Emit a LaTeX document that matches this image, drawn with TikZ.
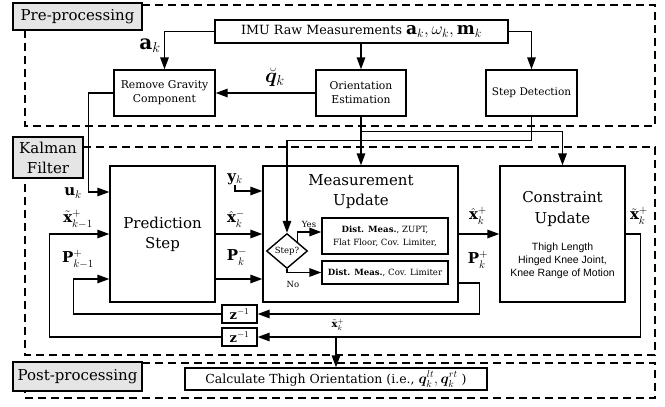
\documentclass[tikz,border=0pt]{standalone}
\usepackage{amsmath}
\usepackage{bm}
\usepackage{fontspec}
\setmainfont{DejaVu Serif}
\newfontfamily\notefont{Liberation Sans}
\usetikzlibrary{arrows.meta,shapes.geometric}

\begin{document}
\begin{tikzpicture}[
    x=1pt, y=-1pt, >={Triangle[length=12pt,width=8.5pt]},
    every node/.style={inner sep=0pt},
    blk/.style={draw, line width=1.4pt, fill=white, align=center},
    tagBox/.style={draw, line width=1.4pt, fill=black!10, align=center, font=\fontsize{15}{20}\selectfont},
    region/.style={line width=1.3pt, dash pattern=on 8pt off 5pt},
    sig/.style={draw, line width=1.5pt},
    mLbl/.style={font=\fontsize{15}{15}\selectfont},
    tinyTxt/.style={font=\fontsize{8.5}{10}\selectfont}
]
    \useasboundingbox (0,0) rectangle (665,407);

    % stage frames
    \draw[region] (142,5) -- (655,5) -- (655,126) -- (25,126) -- (25,30);
    \draw[region] (83,147) -- (655,147) -- (655,355) -- (25,355) -- (25,178);
    \draw[region] (142,363) -- (655,363) -- (655,398) -- (25,398) -- (25,391);
    \node[tagBox, minimum width=129pt, minimum height=27pt] (preTag) at (77.5,16.5) {Pre-processing};
    \node[tagBox, minimum width=70pt, minimum height=41pt] (kalTag) at (48,157.5) {Kalman\\Filter};
    \node[tagBox, minimum width=129pt, minimum height=29pt] (postTag) at (77.5,376.5) {Post-processing};

    % pre-processing
    \node[blk, minimum width=293pt, minimum height=23pt, font=\fontsize{12.7}{15}\selectfont] (imu) at (361.5,31.5)
        {IMU Raw Measurements {\fontsize{17}{17}\selectfont$\mathbf{a}_k,\omega_k,\mathbf{m}_k$}};
    \node[blk, minimum width=101pt, minimum height=46pt, font=\fontsize{10.8}{14}\selectfont] (grav) at (164.5,93) {Remove Gravity\\Component};
    \node[blk, minimum width=90pt, minimum height=46pt, font=\fontsize{10.8}{14}\selectfont] (orient) at (361,93) {Orientation\\Estimation};
    \node[blk, minimum width=91pt, minimum height=46pt, font=\fontsize{10.5}{14}\selectfont] (stepDet) at (531.5,93) {Step Detection};

    % kalman filter
    \node[blk, minimum width=105pt, minimum height=136pt, font=\fontsize{15}{20}\selectfont] (pred) at (162.5,234) {Prediction\\Step};
    \node[blk, minimum width=195pt, minimum height=136pt] (meas) at (360.5,234) {};
    \node[font=\fontsize{15}{20}\selectfont, align=center] (measTitle) at (361,192) {Measurement\\Update};
    \node[blk, minimum width=125pt, minimum height=136pt] (cons) at (562.5,234) {};
    \node[font=\fontsize{15}{21}\selectfont, align=center] (consTitle) at (562.5,208.5) {Constraint\\Update};
    \node[font=\notefont\fontsize{10.5}{13}\selectfont, align=center] (consNote) at (562.5,261)
        {Thigh Length\\Hinged Knee Joint,\\Knee Range of Motion};
    \node[draw, diamond, line width=1.4pt, fill=white, minimum width=41pt, minimum height=35pt, tinyTxt] (stepQ) at (287,251) {Step?};
    \node[blk, minimum width=126pt, minimum height=36pt, font=\fontsize{8.6}{13}\selectfont] (yesBox) at (385,236)
        {\textbf{Dist. Meas.}, ZUPT,\\Flat Floor, Cov. Limiter,};
    \node[blk, minimum width=126pt, minimum height=23pt, font=\fontsize{8.6}{13}\selectfont] (noBox) at (385,272.5)
        {\textbf{Dist. Meas.}, Cov. Limiter};
    \node[blk, minimum width=35pt, minimum height=18pt, font=\fontsize{13}{13}\selectfont] (zOne) at (239.5,314) {$\mathbf{z}^{-1}$};
    \node[blk, minimum width=35pt, minimum height=18pt, font=\fontsize{13}{13}\selectfont] (zTwo) at (239.5,337) {$\mathbf{z}^{-1}$};

    % post-processing
    \node[blk, minimum width=302pt, minimum height=22pt, font=\fontsize{12.5}{15}\selectfont] (calc) at (336,379)
        {Calculate Thigh Orientation (i.e., {\fontsize{14}{14}\selectfont$\bm{q}_k^{lt},\bm{q}_k^{rt}$} )};

    % signal labels
    \node[font=\fontsize{20}{20}\selectfont] (aLbl) at (150,46) {$\mathbf{a}_k$};
    \node[font=\fontsize{20}{20}\selectfont] (qLbl) at (275,77) {$\breve{\bm{q}}_k$};
    \node[mLbl] (uLbl) at (73,193) {$\mathbf{u}_k$};
    \node[mLbl] (xPrevLbl) at (78,219) {$\tilde{\mathbf{x}}_{k-1}^{+}$};
    \node[mLbl] (pPrevLbl) at (78,259) {$\mathbf{P}_{k-1}^{+}$};
    \node[mLbl] (yLbl) at (235,179) {$\mathbf{y}_k$};
    \node[mLbl] (xMinusLbl) at (236,219) {$\hat{\mathbf{x}}_k^{-}$};
    \node[mLbl] (pMinusLbl) at (237,257) {$\mathbf{P}_k^{-}$};
    \node[mLbl] (xPlusLbl) at (478,216) {$\hat{\mathbf{x}}_k^{+}$};
    \node[mLbl] (pPlusLbl) at (478,260) {$\mathbf{P}_k^{+}$};
    \node[mLbl] (xConsLbl) at (639,216) {$\tilde{\mathbf{x}}_k^{+}$};
    \node[font=\fontsize{10}{10}\selectfont] (xOutLbl) at (338,325) {$\tilde{\mathbf{x}}_k^{+}$};
    \node[tinyTxt] (yesLbl) at (309,224) {Yes};
    \node[tinyTxt] (noLbl) at (293,284) {No};

    % connectors
    \draw[sig, ->] (imu.west) -| (grav.north);
    \draw[sig, ->] (imu.south -| orient.north) -- (orient.north);
    \draw[sig, ->] (imu.east) -| (stepDet.north);
    \draw[sig, ->] (orient.west) -- (grav.east);
    \draw[sig, ->] (grav.west) -- ++(-25,0) |- ([yshift=42pt]pred.west);
    \draw[sig, ->] (orient.south) -- (orient.south |- meas.north);
    \draw[sig, ->] (orient.south) ++(0,15) -| (cons.north);
    \draw[sig, ->] (stepDet.south) -- ++(0,24) -| (stepQ.north);
    \draw[sig, ->] (yLbl.south) |- ([yshift=43pt]meas.west);
    \draw[sig, ->] (pred.east) -- (meas.west);
    \draw[sig, ->] ([yshift=-45pt]pred.east) -- ([yshift=-45pt]meas.west);
    \draw[sig, ->] (stepQ.north east) |- ([yshift=4pt]yesBox.west);
    \draw[sig, ->] (stepQ.south) |- (noBox.west);
    \draw[sig, ->] (meas.east) -- (cons.west);
    \draw[sig, ->] ([yshift=-49pt]meas.east) -- ++(21,0) |- (zOne.east);
    \draw[sig, ->] (cons.east) -- ++(15,0) |- (zTwo.east);
    \draw[sig, ->] (calc.north |- zTwo.east) -- (calc.north);
    \draw[sig, ->] (zTwo.west) -- ++(-172,0) |- (pred.west);
    \draw[sig, ->] (zOne.west) -- ++(-148,0) |- ([yshift=-45pt]pred.west);
\end{tikzpicture}
\end{document}
